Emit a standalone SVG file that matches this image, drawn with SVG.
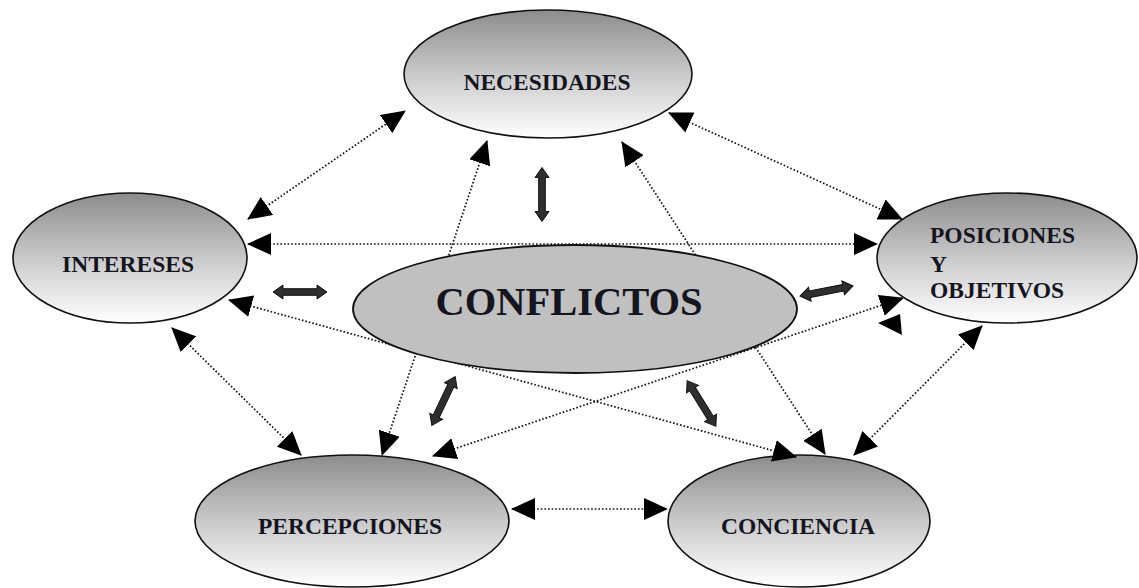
<svg xmlns="http://www.w3.org/2000/svg" xmlns:xlink="http://www.w3.org/1999/xlink" width="1139" height="588" viewBox="0 0 1139 588">
<style>
.node{stroke:#111;stroke-width:1.6;fill:url(#g)}
.center{stroke:#111;stroke-width:1.8;fill:#c0c0c0}
.lbl{font-family:"Liberation Serif","Times New Roman",serif;font-weight:bold;font-size:23.5px;fill:#15151f}
.big{font-size:40.5px}
.dot{stroke:#111;stroke-width:1.7;stroke-dasharray:1.6 2;fill:none;marker-start:url(#ah);marker-end:url(#ah)}
.blk{fill:#2e2e2e;stroke:#111;stroke-width:1}
.head{fill:#000}
</style>
<defs>
<linearGradient id="g" x1="0" y1="0" x2="0" y2="1">
<stop offset="0" stop-color="#8c8c8c"/>
<stop offset="0.55" stop-color="#cfcfcf"/>
<stop offset="1" stop-color="#ffffff"/>
</linearGradient>
<marker id="ah" markerUnits="userSpaceOnUse" markerWidth="24" markerHeight="22" viewBox="0 0 24 22" refX="23" refY="11" orient="auto-start-reverse">
<path d="M0,0 L24,11 L0,22 Z" fill="#000"/>
</marker>
<path id="dbl" d="M-27,0 L-17,-7 L-17,-3.3 L17,-3.3 L17,-7 L27,0 L17,7 L17,3.3 L-17,3.3 L-17,7 Z"/>
</defs>
<rect width="1139" height="588" fill="#fff"/>

<g id="necesidades">
<ellipse class="node" cx="548" cy="74" rx="144" ry="64"/>
<text class="lbl" x="547" y="90" text-anchor="middle">NECESIDADES</text>
</g>
<g id="intereses">
<ellipse class="node" cx="130" cy="258" rx="117" ry="65"/>
<text class="lbl" x="128" y="272" text-anchor="middle">INTERESES</text>
</g>
<g id="posiciones">
<ellipse class="node" cx="1007" cy="258" rx="130" ry="65"/>
<text class="lbl" x="930" y="243">POSICIONES</text>
<text class="lbl" x="930" y="272">Y</text>
<text class="lbl" x="930" y="298">OBJETIVOS</text>
</g>
<g id="percepciones">
<ellipse class="node" cx="352" cy="521" rx="157" ry="66"/>
<text class="lbl" x="350" y="534" text-anchor="middle">PERCEPCIONES</text>
</g>
<g id="conciencia">
<ellipse class="node" cx="799" cy="521" rx="131" ry="66"/>
<text class="lbl" x="798" y="534" text-anchor="middle">CONCIENCIA</text>
</g>

<g id="connectors">
<line class="dot" x1="248" y1="219" x2="405" y2="111"/>
<line class="dot" x1="669" y1="113" x2="902" y2="219"/>
<line class="dot" x1="248" y1="244" x2="877" y2="244"/>
<line class="dot" x1="172" y1="328" x2="301" y2="455"/>
<line class="dot" x1="982" y1="326" x2="854" y2="455"/>
<line class="dot" x1="512" y1="509" x2="667" y2="509"/>
<line class="dot" x1="487" y1="141" x2="382" y2="455"/>
<line class="dot" x1="622" y1="142" x2="825" y2="454"/>
<line class="dot" x1="229" y1="300" x2="796" y2="457"/>
<line class="dot" x1="433" y1="456" x2="903" y2="298"/>
<polygon class="head" points="878,323 900,314 902,335"/>
<use href="#dbl" class="blk" transform="translate(542,194.5) rotate(90)"/>
<use href="#dbl" class="blk" transform="translate(300,292)"/>
<use href="#dbl" class="blk" transform="translate(826.5,291) rotate(-10.7)"/>
<use href="#dbl" class="blk" transform="translate(443.5,401) rotate(115.6)"/>
<use href="#dbl" class="blk" transform="translate(701.5,403.5) rotate(57.9)"/>
</g>

<g id="conflictos">
<ellipse class="center" cx="575" cy="309" rx="222" ry="64"/>
<text class="lbl big" x="569" y="315" text-anchor="middle">CONFLICTOS</text>
</g>
</svg>
